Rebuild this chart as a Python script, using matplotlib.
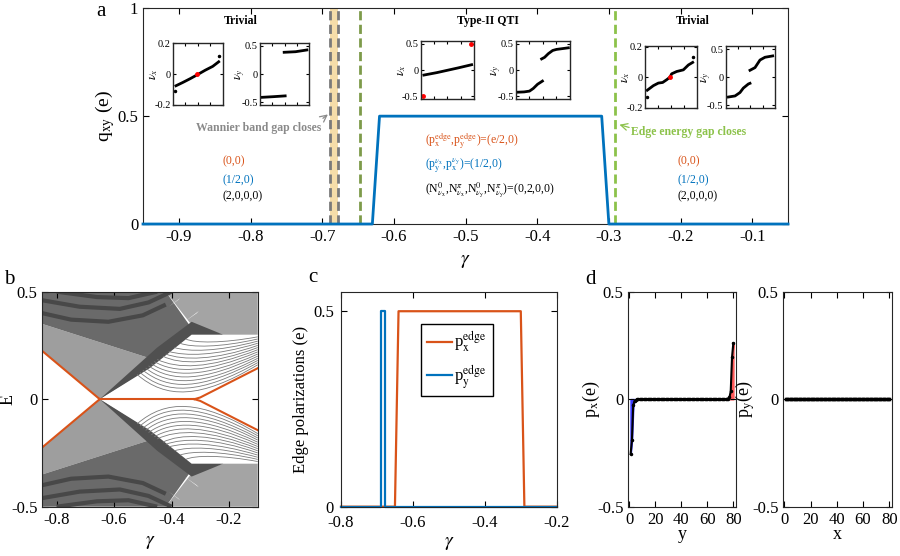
import numpy as np
import matplotlib
matplotlib.use("Agg")
import matplotlib.pyplot as plt
from matplotlib.path import Path
from matplotlib.patches import PathPatch, Polygon

plt.rcParams["font.family"] = ["Liberation Serif", "DejaVu Serif"]
plt.rcParams["mathtext.fontset"] = "stix"
plt.rcParams["axes.unicode_minus"] = False
plt.rcParams["xtick.direction"] = "in"
plt.rcParams["ytick.direction"] = "in"
plt.rcParams["xtick.top"] = True
plt.rcParams["ytick.right"] = True
plt.rcParams["axes.linewidth"] = 0.8
plt.rcParams["axes.edgecolor"] = "#262626"
plt.rcParams["font.size"] = 12

ORANGE = "#D95319"
BLUE = "#0072BD"
GREEN = "#8CC24A"
TICK_FS = 12

# ---- panel a: quadrupole moment vs gamma
gamma_q = [-0.95, -0.63, -0.62, -0.31, -0.30, -0.05]
q_xy = [0, 0, 0.5, 0.5, 0, 0]
wannier_gap = [-0.6895, -0.6785]
edge_gap_lines = [-0.647, -0.292]

# insets (x as fraction of the Wannier index range)
in1_x = [0.06, 0.2, 0.35, 0.5, 0.65, 0.8, 0.92]
in1_y = [-0.077, -0.055, -0.03, -0.003, 0.025, 0.05, 0.08]
in1_out_x = [0.05, 0.93]
in1_out_y = [-0.114, 0.116]
in1_red = ([0.49], [0.0])

in2_lx = [0.03, 0.27, 0.51]
in2_ly = [-0.414, -0.402, -0.388]
in2_rx = [0.49, 0.72, 0.95]
in2_ry = [0.385, 0.395, 0.426]

in3_x = [0.06, 0.3, 0.5, 0.7, 0.95]
in3_y = [-0.096, -0.05, -0.005, 0.04, 0.1]
in3_red = ([0.05, 0.94], [-0.49, 0.49])

in4_lx = [0.04, 0.15, 0.25, 0.32, 0.40, 0.49]
in4_ly = [-0.42, -0.415, -0.40, -0.35, -0.27, -0.21]
in4_rx = [0.475, 0.53, 0.60, 0.68, 0.75, 0.97]
in4_ry = [0.21, 0.24, 0.31, 0.37, 0.39, 0.42]

in5_x = [0.05, 0.167, 0.263, 0.346, 0.423, 0.487, 0.519, 0.615, 0.744, 0.84, 0.923]
in5_y = [-0.086, -0.056, -0.039, -0.035, -0.017, 0.0, 0.022, 0.037, 0.048, 0.08, 0.097]
in5_out_x = [0.05, 0.923]
in5_out_y = [-0.13, 0.13]
in5_red = ([0.487], [0.0])

in6_lx = [0.054, 0.19, 0.29, 0.358, 0.46, 0.493]
in6_ly = [-0.354, -0.335, -0.274, -0.195, -0.122, -0.11]
in6_rx = [0.493, 0.595, 0.696, 0.797, 0.953]
in6_ry = [0.122, 0.17, 0.305, 0.354, 0.378]

# ---- panel b: edge spectrum (upper half; lower half is the mirror image)
edge_left_g = [-0.85, -0.65]
edge_left_e = [0.224, 0.0]
edge_mid_g = [-0.65, -0.32]
edge_right_g = [-0.32, -0.30, -0.1]
edge_right_e = [0.0, 0.008, 0.144]

bulk_light = [(-0.85, 0.224), (-0.65, 0.0), (-0.475, 0.15), (-0.475, 0.19), (-0.85, 0.35)]
bulk_dark = [(-0.85, 0.35), (-0.475, 0.19), (-0.33, 0.33), (-0.42, 0.5), (-0.85, 0.5)]
bulk_band = [(-0.65, 0.0), (-0.475, 0.145), (-0.33, 0.30), (-0.22, 0.30),
             (-0.33, 0.36), (-0.45, 0.24)]
bulk_right = [(-0.42, 0.5), (-0.1, 0.5), (-0.1, 0.30), (-0.22, 0.30), (-0.33, 0.345)]
bulk_slits = [[(-0.355, 0.36), (-0.305, 0.41), (-0.312, 0.40)],
              [(-0.41, 0.43), (-0.37, 0.47), (-0.376, 0.462)]]
# darker swooshes in the upper-left bulk
swoosh_g = [[-0.85, -0.75, -0.62, -0.5, -0.42], [-0.85, -0.72, -0.58, -0.48, -0.40],
            [-0.80, -0.66, -0.55, -0.45]]
swoosh_e = [[0.40, 0.37, 0.36, 0.39, 0.44], [0.46, 0.43, 0.42, 0.45, 0.50],
            [0.50, 0.475, 0.47, 0.50]]

# sparse bulk levels: start, two control points, end (gamma, E)
lev_g0 = [-0.52, -0.51, -0.50, -0.49, -0.48, -0.47, -0.46, -0.45, -0.43, -0.42, -0.41, -0.39, -0.37, -0.35]
lev_e0 = [0.115, 0.125, 0.135, 0.145, 0.155, 0.165, 0.175, 0.185, 0.200, 0.210, 0.222, 0.240, 0.260, 0.280]
lev_g1 = [-0.42, -0.42, -0.41, -0.41, -0.40, -0.40, -0.39, -0.38, -0.37, -0.36, -0.35, -0.34, -0.33, -0.32]
lev_g2 = [-0.30, -0.30, -0.30, -0.29, -0.29, -0.28, -0.28, -0.27, -0.26, -0.25, -0.25, -0.24, -0.23, -0.22]
lev_em = [0.000, 0.020, 0.040, 0.060, 0.080, 0.100, 0.120, 0.140, 0.160, 0.180, 0.200, 0.220, 0.240, 0.260]
lev_e3 = [0.160, 0.170, 0.180, 0.190, 0.200, 0.210, 0.220, 0.230, 0.240, 0.250, 0.260, 0.270, 0.280, 0.290]

# ---- panel c: edge polarizations
gamma_px = [-0.8, -0.65, -0.64, -0.30, -0.29, -0.2]
p_x_edge = [0, 0, 0.5, 0.5, 0, 0]
gamma_py = [-0.8, -0.69, -0.69, -0.678, -0.678, -0.2]
p_y_edge = [0, 0, 0.5, 0.5, 0, 0]

# ---- panel d: polarization profiles
sites = np.arange(1, 81)
p_x_sites = ([-0.255, -0.19, -0.028, -0.008, -0.003, -0.001] + [0.0] * 68
             + [0.001, 0.003, 0.008, 0.036, 0.195, 0.26])
p_y_sites = [0.0] * 80


fig = plt.figure(figsize=(9, 5.56), dpi=100)

# ================= panel a
ax = fig.add_axes([0.1589, 0.5971, 0.7167, 0.388])
ax.axvspan(wannier_gap[0], wannier_gap[1], color="#F5DDA9", lw=0)
for g in wannier_gap:
    ax.axvline(g, color="#7a7a7a", lw=2, ls=(0, (3.3, 1.6)))
ax.axvline(edge_gap_lines[0], color="#7D9B4A", lw=2, ls=(0, (3.3, 1.6)))
ax.axvline(edge_gap_lines[1], color=GREEN, lw=2, ls=(0, (3.3, 1.6)))
ax.plot(gamma_q, q_xy, color=BLUE, lw=2, clip_on=False, zorder=5)
ax.set_xlim(-0.95, -0.05)
ax.set_ylim(0, 1)
ax.set_xticks([-0.9, -0.8, -0.7, -0.6, -0.5, -0.4, -0.3, -0.2, -0.1])
ax.set_yticks([0, 0.5, 1])
ax.set_yticklabels(["0", "0.5", "1"])
ax.tick_params(labelsize=TICK_FS, length=4)
ax.set_xlabel(r"$\gamma$", fontsize=14, labelpad=6)
ax.set_ylabel(r"q$_{\rm xy}$ (e)", fontsize=14, labelpad=0)

ax.text(-0.813, 0.94, "Trivial", fontweight="bold", fontsize=8.5, ha="center", va="center")
ax.text(-0.469, 0.94, "Type-II QTI", fontweight="bold", fontsize=8.5, ha="center", va="center")
ax.text(-0.183, 0.94, "Trivial", fontweight="bold", fontsize=8.5, ha="center", va="center")
ax.text(-0.788, 0.447, "Wannier band gap closes", fontweight="bold", fontsize=8.5,
        color="#8a8a8a", ha="center", va="center")
ax.annotate("", xy=(-0.689, 0.516), xytext=(-0.702, 0.482),
            arrowprops=dict(arrowstyle="->", color="#8a8a8a", lw=0.9))
ax.text(-0.189, 0.427, "Edge energy gap closes", fontweight="bold", fontsize=8.5,
        color=GREEN, ha="center", va="center")
ax.annotate("", xy=(-0.289, 0.464), xytext=(-0.268, 0.444),
            arrowprops=dict(arrowstyle="->", color=GREEN, lw=0.9))

for gx in [-0.839, -0.204]:
    ax.text(gx, 0.289, "(0,0)", color=ORANGE, fontsize=8.5, va="center")
    ax.text(gx, 0.204, "(1/2,0)", color=BLUE, fontsize=8.5, va="center")
    ax.text(gx, 0.127, "(2,0,0,0)", color="black", fontsize=8.5, va="center")
ax.text(-0.557, 0.385, r"(p$_{\rm x}^{\rm edge}$,p$_{\rm y}^{\rm edge}$)=(e/2,0)",
        color=ORANGE, fontsize=8.5, va="center")
ax.text(-0.557, 0.27, r"(p$_{\rm y}^{\nu_{\rm x}}$,p$_{\rm x}^{\nu_{\rm y}}$)=(1/2,0)",
        color=BLUE, fontsize=8.5, va="center")
ax.text(-0.557, 0.158,
        r"(N$^0_{\nu_{\rm x}}$,N$^\pi_{\nu_{\rm x}}$,N$^0_{\nu_{\rm y}}$,N$^\pi_{\nu_{\rm y}}$)=(0,2,0,0)",
        color="black", fontsize=8.5, va="center")


def make_inset(rect, lim, ticks, ticklabels, label):
    iax = fig.add_axes(rect)
    iax.set_xlim(0, 1)
    iax.set_ylim(-lim, lim)
    iax.set_yticks(ticks)
    iax.set_yticklabels(ticklabels)
    iax.set_xticks([0.25, 0.5, 0.75])
    iax.set_xticklabels([])
    iax.tick_params(labelsize=7.5, length=2, pad=1.5)
    iax.set_ylabel(label, fontsize=9, labelpad=-4)
    for s in iax.spines.values():
        s.set_linewidth(1.0)
    return iax


t02 = [-0.2, 0, 0.2]
t02l = ["-0.2", "0", "0.2"]
t05 = [-0.5, 0, 0.5]
t05l = ["-0.5", "0", "0.5"]

i1 = make_inset([0.1922, 0.8106, 0.0552, 0.1126], 0.205, t02, t02l, r"$\nu_x$")
i1.plot(in1_x, in1_y, color="k", lw=2)
i1.plot(in1_out_x, in1_out_y, "k.", ms=3)
i1.plot(*in1_red, ".", color="red", ms=5)

i2 = make_inset([0.2889, 0.8106, 0.0548, 0.1126], 0.555, t05, t05l, r"$\nu_y$")
i2.plot(in2_lx, in2_ly, color="k", lw=2)
i2.plot(in2_rx, in2_ry, color="k", lw=2)

i3 = make_inset([0.4674, 0.8214, 0.0596, 0.1054], 0.555, t05, t05l, r"$\nu_x$")
i3.plot(in3_x, in3_y, color="k", lw=2)
i3.plot(*in3_red, ".", color="red", ms=5)

i4 = make_inset([0.5733, 0.8214, 0.0600, 0.1054], 0.555, t05, t05l, r"$\nu_y$")
i4.plot(in4_lx, in4_ly, color="k", lw=2)
i4.plot(in4_rx, in4_ry, color="k", lw=2)

i5 = make_inset([0.7163, 0.8052, 0.0578, 0.1121], 0.205, t02, t02l, r"$\nu_x$")
i5.plot(in5_x, in5_y, color="k", lw=2)
i5.plot(in5_out_x, in5_out_y, "k.", ms=3)
i5.plot(*in5_red, ".", color="red", ms=5)

i6 = make_inset([0.8063, 0.8052, 0.0548, 0.1121], 0.555, t05, t05l, r"$\nu_y$")
i6.plot(in6_lx, in6_ly, color="k", lw=2)
i6.plot(in6_rx, in6_ry, color="k", lw=2)

# ================= panel b
axb = fig.add_axes([0.047, 0.0887, 0.2393, 0.3867])
for sign in [1, -1]:
    for pts, col in [(bulk_light, "#9e9e9e"), (bulk_dark, "#6a6a6a"),
                     (bulk_right, "#a4a4a4"), (bulk_band, "#505050")]:
        arr = np.array(pts) * [1, sign]
        axb.add_patch(Polygon(arr, closed=True, facecolor=col, edgecolor="none"))
    for gs, es in zip(swoosh_g, swoosh_e):
        axb.plot(gs, [sign * e for e in es], color="#484848", lw=3, solid_capstyle="butt")
    for sl in bulk_slits:
        axb.add_patch(Polygon(np.array(sl) * [1, sign], closed=True, facecolor="white",
                              edgecolor="none"))
    for k in range(len(lev_g0)):
        verts = [(lev_g0[k], sign * lev_e0[k]), (lev_g1[k], sign * lev_em[k]),
                 (lev_g2[k], sign * lev_em[k]), (-0.1, sign * lev_e3[k])]
        path = Path(verts, [Path.MOVETO, Path.CURVE4, Path.CURVE4, Path.CURVE4])
        axb.add_patch(PathPatch(path, facecolor="none", edgecolor="#7a7a7a", lw=0.6))
    axb.plot(edge_left_g, [sign * e for e in edge_left_e], color=ORANGE, lw=1.5)
    axb.plot(edge_right_g, [sign * e for e in edge_right_e], color=ORANGE, lw=1.5)
axb.plot(edge_mid_g, [0, 0], color=ORANGE, lw=1.5)
axb.set_xlim(-0.85, -0.1)
axb.set_ylim(-0.5, 0.5)
axb.set_xticks([-0.8, -0.6, -0.4, -0.2])
axb.set_yticks([-0.5, 0, 0.5])
axb.set_yticklabels(["-0.5", "0", "0.5"])
axb.tick_params(labelsize=TICK_FS, length=4)
axb.set_xlabel(r"$\gamma$", fontsize=14, labelpad=5)
axb.set_ylabel("E", fontsize=13)
axb.yaxis.set_label_coords(-0.12, 0.5)

# ================= panel c
axc = fig.add_axes([0.3789, 0.0887, 0.2397, 0.3867])
axc.plot(gamma_px, p_x_edge, color=ORANGE, lw=1.6, label=r"p$_{\rm x}^{\rm edge}$", clip_on=False)
axc.plot(gamma_py, p_y_edge, color=BLUE, lw=1.6, label=r"p$_{\rm y}^{\rm edge}$", clip_on=False)
axc.set_xlim(-0.8, -0.2)
axc.set_ylim(0, 0.55)
axc.set_xticks([-0.8, -0.6, -0.4, -0.2])
axc.set_yticks([0, 0.5])
axc.set_yticklabels(["0", "0.5"])
axc.tick_params(labelsize=TICK_FS, length=4)
axc.tick_params(axis="x", pad=6)
axc.tick_params(axis="y", pad=5)
axc.set_xlabel(r"$\gamma$", fontsize=14, labelpad=3)
axc.set_ylabel("Edge polarizations (e)", fontsize=12, labelpad=3)
leg = axc.legend(loc="upper left", bbox_to_anchor=(0.371, 0.85), borderaxespad=0,
                 fontsize=12, fancybox=False, edgecolor="black", framealpha=1,
                 handlelength=1.5, labelspacing=0.5, borderpad=0.35, handletextpad=0.15)
leg.get_frame().set_linewidth(1.0)

# ================= panel d
axd1 = fig.add_axes([0.6981, 0.0887, 0.1193, 0.3867])
px_arr = np.array(p_x_sites)
axd1.fill_between(sites[:4], px_arr[:4], 0, color="#3a3aff", lw=1.2, edgecolor="#3a3aff")
axd1.fill_between(sites[-4:], px_arr[-4:], 0, color="#ff5a5a", lw=1.2, edgecolor="#ff5a5a")
axd1.plot(sites, p_x_sites, "k-", lw=1.5)
axd1.plot(sites, p_x_sites, "k.", ms=3)
axd1.set_ylabel(r"p$_{\rm x}$(e)", fontsize=13, labelpad=-4)
axd1.set_xlabel("y", fontsize=13, labelpad=-1)

axd2 = fig.add_axes([0.8703, 0.0887, 0.1204, 0.3867])
axd2.plot(sites, p_y_sites, "k-", lw=2.5)
axd2.plot(sites, p_y_sites, "k.", ms=3)
axd2.set_ylabel(r"p$_{\rm y}$(e)", fontsize=13, labelpad=-4)
axd2.set_xlabel("x", fontsize=13, labelpad=-1)

for a in [axd1, axd2]:
    a.set_xlim(-0.8, 81.8)
    a.set_ylim(-0.5, 0.5)
    a.set_xticks([0, 20, 40, 60, 80])
    a.set_yticks([-0.5, 0, 0.5])
    a.set_yticklabels(["-0.5", "0", "0.5"])
    a.tick_params(labelsize=TICK_FS, length=4)

# panel letters
fig.text(101 / 900, 1 - 12 / 556, "a", fontsize=15, va="center", ha="center")
fig.text(9 / 900, 1 - 280 / 556, "b", fontsize=15, va="center", ha="center")
fig.text(313 / 900, 1 - 278 / 556, "c", fontsize=15, va="center", ha="center")
fig.text(590 / 900, 1 - 280 / 556, "d", fontsize=15, va="center", ha="center")

fig.savefig("out.png", dpi=100)
